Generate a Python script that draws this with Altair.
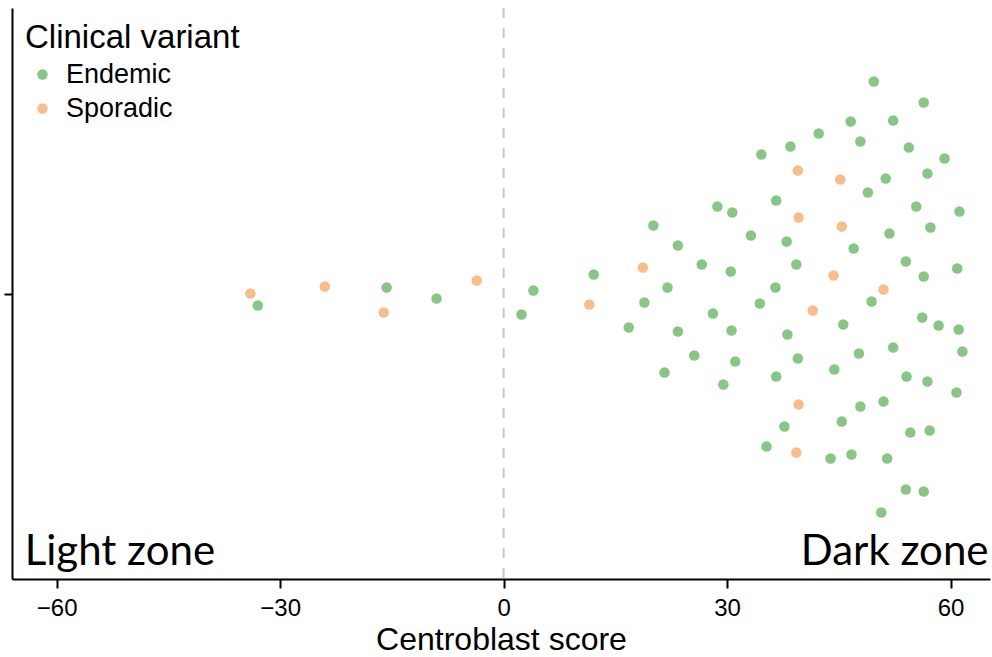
import altair as alt
import pandas as pd

# Centroblast score (x) and vertical jitter (y, arbitrary units) per sample
endemic_x = [-33.0, -15.7, -9.0, 4.0, 2.4, 12.1,
             34.6, 38.5, 36.6, 28.7, 30.7, 20.1, 23.4, 33.2, 38.0,
             49.7, 56.4, 46.6, 52.3, 42.3, 47.9, 54.4, 59.2, 51.3, 56.9,
             48.9, 55.4, 61.2, 51.8, 57.3, 47.0,
             26.6, 30.5, 39.3, 22.0, 18.9, 36.5, 34.4, 28.1, 16.8, 23.4,
             30.6, 38.1, 25.6, 31.1, 39.5, 21.6, 29.5, 36.6,
             54.0, 60.9, 56.4, 49.4, 56.2, 58.4, 61.1, 45.6, 52.3, 47.7,
             61.6, 44.4, 54.1, 56.9, 60.8, 51.0,
             47.9, 37.7, 45.4, 54.6, 57.2, 35.3, 43.9, 46.7, 51.5, 54.0,
             56.4, 50.7]
endemic_y = [-0.12, 0.06, -0.05, 0.03, -0.21, 0.19,
             1.39, 1.47, 0.93, 0.87, 0.81, 0.68, 0.48, 0.58, 0.52,
             2.12, 1.91, 1.72, 1.73, 1.60, 1.52, 1.46, 1.35, 1.15, 1.20,
             1.01, 0.87, 0.82, 0.60, 0.66, 0.45,
             0.29, 0.22, 0.29, 0.06, -0.09, 0.06, -0.10, -0.20, -0.34, -0.38,
             -0.37, -0.41, -0.62, -0.68, -0.65, -0.79, -0.91, -0.83,
             0.32, 0.25, 0.17, -0.08, -0.24, -0.32, -0.36, -0.31, -0.54, -0.60,
             -0.58, -0.76, -0.83, -0.88, -0.99, -1.08,
             -1.13, -1.33, -1.28, -1.39, -1.37, -1.53, -1.65, -1.61, -1.65, -1.96,
             -1.98, -2.19]

sporadic_x = [-34.0, -24.0, -16.1, -3.6, 11.5, 39.5, 39.6, 45.2, 45.4,
              18.7, 44.3, 51.0, 41.5, 39.6, 39.3]
sporadic_y = [0.0, 0.07, -0.19, 0.13, -0.11, 1.23, 0.76, 1.14, 0.67,
              0.26, 0.18, 0.04, -0.17, -1.11, -1.59]

variants = ["Endemic", "Sporadic"]
colors = ["#87c685", "#f9bd8b"]
x_ticks = [-60, -30, 0, 30, 60]
zero_line = [0]
zone_labels = ["Light zone", "Dark zone"]
zone_x = [-64.3, 65.1]
zone_y = [-2.715, -2.715]
zone_align = ["left", "right"]

df = pd.DataFrame({
    "score": endemic_x + sporadic_x,
    "jitter": endemic_y + sporadic_y,
    "variant": [variants[0]] * len(endemic_x) + [variants[1]] * len(sporadic_x),
})
rule_df = pd.DataFrame({"score": zero_line})
zone_df = pd.DataFrame({"label": zone_labels, "score": zone_x, "jitter": zone_y, "align": zone_align})

x_scale = alt.Scale(domain=[-66, 65.3], nice=False, zero=False)
y_scale = alt.Scale(domain=[-2.855, 2.855], nice=False, zero=False)

points = alt.Chart(df).mark_circle(size=110, opacity=1).encode(
    x=alt.X("score:Q", scale=x_scale, title="Centroblast score",
            axis=alt.Axis(values=x_ticks, format="d")),
    y=alt.Y("jitter:Q", scale=y_scale, title=None,
            axis=alt.Axis(values=[0], labels=False)),
    color=alt.Color("variant:N", scale=alt.Scale(domain=variants, range=colors),
                    legend=alt.Legend(title="Clinical variant")),
)

rule = alt.Chart(rule_df).mark_rule(color="#c8c8c8", strokeWidth=2, strokeDash=[10, 10]).encode(
    x=alt.X("score:Q", scale=x_scale)
)

left_text = alt.Chart(zone_df[zone_df["align"] == "left"]).mark_text(
    align="left", baseline="alphabetic", font="Lato", fontSize=42, color="black"
).encode(x=alt.X("score:Q", scale=x_scale), y=alt.Y("jitter:Q", scale=y_scale), text="label:N")

right_text = alt.Chart(zone_df[zone_df["align"] == "right"]).mark_text(
    align="right", baseline="alphabetic", font="Lato", fontSize=42, color="black"
).encode(x=alt.X("score:Q", scale=x_scale), y=alt.Y("jitter:Q", scale=y_scale), text="label:N")

chart = alt.layer(rule, points, left_text, right_text).properties(
    width=978, height=571,
    autosize=alt.AutoSizeParams(type="none"),
    padding={"left": 12, "top": 8, "right": 2, "bottom": 78},
).configure_view(stroke=None).configure_axis(
    grid=False,
    domainColor="black", domainWidth=2,
    tickColor="black", tickWidth=2, tickSize=8,
    labelFont="Liberation Sans", labelFontSize=24, labelColor="black",
    titleFont="Liberation Sans", titleFontSize=32, titleColor="black",
    titleFontWeight="normal",
).configure_axisX(
    tickSize=9, labelPadding=8, titlePadding=4,
).configure_legend(
    orient="none", legendX=13, legendY=14,
    titleFont="Liberation Sans", titleFontSize=33, titleFontWeight="normal",
    titleColor="black", titlePadding=6, titleLimit=600,
    labelFont="Liberation Sans", labelFontSize=27, labelColor="black", labelLimit=400,
    symbolType="circle", symbolSize=110, symbolStrokeWidth=0, symbolOpacity=1,
    symbolOffset=4, labelOffset=10, rowPadding=6, padding=0,
)

chart.save("out.html", embed_options={"renderer": "svg", "actions": False})
